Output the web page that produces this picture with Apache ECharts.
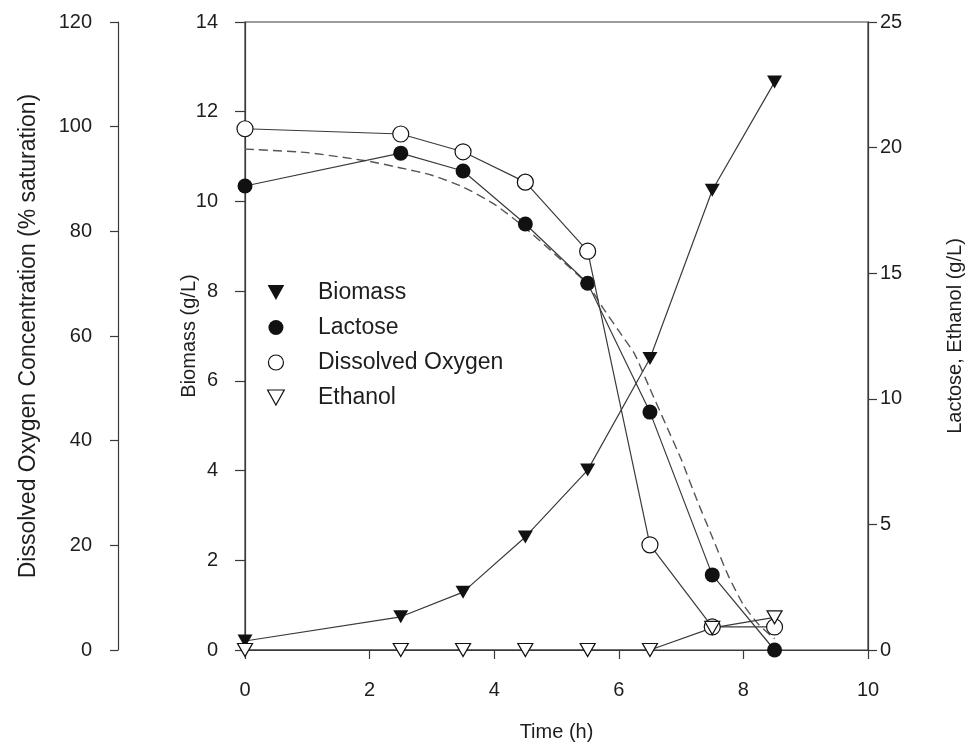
<!DOCTYPE html>
<html>
<head>
<meta charset="utf-8">
<script src="https://cdn.jsdelivr.net/npm/echarts@6/dist/echarts.min.js"></script>
<style>
html,body{margin:0;padding:0;background:#fff;}
#chart{width:973px;height:748px;}
</style>
</head>
<body>
<div id="chart"></div>
<script>
// ---- data ----
var times = [0, 2.5, 3.5, 4.5, 5.5, 6.5, 7.5, 8.5];
var biomass = [0.2, 0.74, 1.29, 2.52, 4.01, 6.5, 10.25, 12.66];
var lactose = [18.47, 19.78, 19.07, 16.96, 14.6, 9.47, 2.99, 0];
var dissolvedOxygen = [99.6, 98.6, 95.2, 89.4, 76.2, 20.1, 4.4, 4.4];
var ethanol = [0, 0, 0, 0, 0, 0, 0.88, 1.3];
var modelTimes = [0, 1, 2, 2.5, 3, 3.5, 4, 4.5, 5, 5.5, 5.75, 6, 6.25, 6.5, 6.75, 7, 7.25, 7.5, 7.75, 8, 8.25, 8.5];
var modelLactose = [19.94, 19.8, 19.45, 19.19, 18.9, 18.43, 17.75, 16.8, 15.7, 14.55, 13.6, 12.7, 11.8, 10.4, 9.0, 7.6, 6.0, 4.5, 3.0, 1.8, 1.0, 0.45];
var xTicks = [0, 2, 4, 6, 8, 10];
var biomassTicks = [0, 2, 4, 6, 8, 10, 12, 14];
var doTicks = [0, 20, 40, 60, 80, 100, 120];
var rightTicks = [0, 5, 10, 15, 20, 25];

function pairs(xs, ys) { return xs.map(function (x, i) { return [x, ys[i]]; }); }

var FONT = '"Liberation Sans", Arial, sans-serif';
var TXT = '#1e1e1e';
var LINE = '#3a3a3a';
var downTri = 'path://M0,0 L10,0 L5,9 Z';

var chart = echarts.init(document.getElementById('chart'), null, {renderer: 'canvas'});

function yAxisBase(ticks, name, pos, offset, labelMargin, nameGap, tickLen, nameSize) {
  return {
    type: 'value', position: pos, offset: offset,
    min: ticks[0], max: ticks[ticks.length - 1], interval: ticks[1] - ticks[0],
    name: name, nameLocation: 'middle', nameGap: nameGap, nameMoveOverlap: false,
    nameTextStyle: {fontFamily: FONT, fontSize: nameSize, color: TXT},
    axisLine: {show: true, onZero: false, lineStyle: {color: LINE, width: 1.2}},
    axisTick: {show: true, inside: false, length: tickLen, lineStyle: {color: LINE, width: 1.2}},
    axisLabel: {fontFamily: FONT, fontSize: 20, color: TXT, margin: labelMargin},
    splitLine: {show: false}
  };
}

var option = {
  backgroundColor: '#ffffff',
  animation: false,
  grid: {left: 245, right: 100, top: 22, bottom: 98, show: true, borderColor: LINE, borderWidth: 1.2, backgroundColor: 'transparent'},
  legend: {
    orient: 'vertical', left: 262, top: 276,
    itemWidth: 74, itemHeight: 15, itemGap: 12,
    selectedMode: false,
    textStyle: {fontFamily: FONT, fontSize: 23, color: TXT},
    data: [
      {name: 'Biomass', icon: downTri, itemStyle: {color: '#111', borderWidth: 0}},
      {name: 'Lactose', icon: 'circle', itemStyle: {color: '#111', borderWidth: 0}},
      {name: 'Dissolved Oxygen', icon: 'circle', itemStyle: {color: '#fff', borderColor: '#111', borderWidth: 1.2}},
      {name: 'Ethanol', icon: downTri, itemStyle: {color: '#fff', borderColor: '#111', borderWidth: 1.2}}
    ]
  },
  xAxis: {
    type: 'value', min: xTicks[0], max: xTicks[xTicks.length - 1], interval: xTicks[1] - xTicks[0],
    name: 'Time (h)', nameLocation: 'middle', nameGap: 72, nameMoveOverlap: false,
    nameTextStyle: {fontFamily: FONT, fontSize: 20, color: TXT},
    axisLine: {show: true, onZero: false, lineStyle: {color: LINE, width: 1.2}},
    axisTick: {show: true, inside: false, length: 9, lineStyle: {color: LINE, width: 1.2}},
    axisLabel: {fontFamily: FONT, fontSize: 20, color: TXT, margin: 30},
    splitLine: {show: false}
  },
  yAxis: [
    yAxisBase(biomassTicks, 'Biomass (g/L)', 'left', 0, 27, 46, 10, 20),
    yAxisBase(doTicks, 'Dissolved Oxygen Concentration (% saturation)', 'left', 127, 26, 78, 8, 23),
    yAxisBase(rightTicks, 'Lactose, Ethanol (g/L)', 'right', 0, 12, 77, 9, 20)
  ],
  series: [
    {
      name: 'Model', type: 'line', yAxisIndex: 2, smooth: 0.2, showSymbol: false, symbol: 'none',
      data: pairs(modelTimes, modelLactose),
      lineStyle: {color: '#555', width: 1.4, type: [9, 5]}, z: 1
    },
    {
      name: 'Biomass', type: 'line', yAxisIndex: 0, data: pairs(times, biomass),
      symbol: downTri, symbolSize: [15, 13], symbolKeepAspect: false,
      itemStyle: {color: '#111', borderWidth: 0},
      lineStyle: {color: LINE, width: 1.2}, z: 3
    },
    {
      name: 'Lactose', type: 'line', yAxisIndex: 2, data: pairs(times, lactose),
      symbol: 'circle', symbolSize: 15,
      itemStyle: {color: '#111', borderWidth: 0},
      lineStyle: {color: LINE, width: 1.2}, z: 3
    },
    {
      name: 'Dissolved Oxygen', type: 'line', yAxisIndex: 1, data: pairs(times, dissolvedOxygen),
      symbol: 'circle', symbolSize: 16,
      itemStyle: {color: '#fff', borderColor: '#111', borderWidth: 1.2},
      lineStyle: {color: LINE, width: 1.2}, z: 4
    },
    {
      name: 'Ethanol', type: 'line', yAxisIndex: 2, data: pairs(times, ethanol),
      symbol: downTri, symbolSize: [15, 13],
      itemStyle: {color: '#fff', borderColor: '#111', borderWidth: 1.2},
      lineStyle: {color: LINE, width: 1.2}, z: 4
    }
  ]
};
chart.setOption(option);
</script>
</body>
</html>
